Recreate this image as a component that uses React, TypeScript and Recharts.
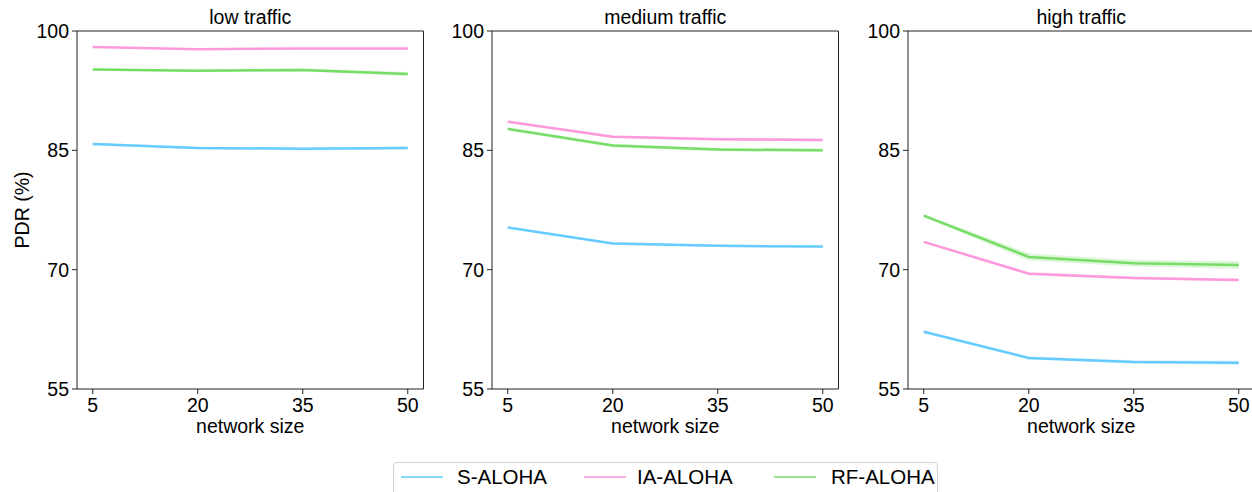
import { ComposedChart, Line, Area, XAxis, YAxis, ReferenceLine } from "recharts";

const sizes = [5, 20, 35, 50];
const yTicks = [55, 70, 85, 100];
const seriesNames = ["S-ALOHA", "IA-ALOHA", "RF-ALOHA"];
const colors = ["#66ccff", "#ff99dd", "#77dd66"];
const panelTitles = ["low traffic", "medium traffic", "high traffic"];

// mean PDR per network size
const lowS = [85.8, 85.3, 85.2, 85.3];
const lowIA = [98.0, 97.7, 97.8, 97.8];
const lowRF = [95.15, 95.0, 95.1, 94.6];
const medS = [75.3, 73.3, 73.0, 72.9];
const medIA = [88.6, 86.7, 86.4, 86.3];
const medRF = [87.7, 85.6, 85.1, 85.0];
const highS = [62.2, 58.9, 58.4, 58.3];
const highIA = [73.5, 69.5, 68.95, 68.7];
const highRF = [76.8, 71.6, 70.8, 70.6];

// half width of the shaded confidence band
const lowSci = [0.15, 0.15, 0.15, 0.15];
const lowIAci = [0.1, 0.1, 0.1, 0.1];
const lowRFci = [0.15, 0.15, 0.2, 0.25];
const medSci = [0.15, 0.15, 0.15, 0.15];
const medIAci = [0.15, 0.15, 0.15, 0.15];
const medRFci = [0.2, 0.2, 0.2, 0.2];
const highSci = [0.15, 0.2, 0.2, 0.25];
const highIAci = [0.15, 0.2, 0.2, 0.2];
const highRFci = [0.2, 0.45, 0.4, 0.5];

const font = "'Liberation Sans', Arial, sans-serif";
const fs = 19.5;
const axisColor = "#222";
const plotW = 346.5;

const build = (s: number[], ia: number[], rf: number[], sc: number[], iac: number[], rfc: number[]) =>
  sizes.map((x, i) => ({
    x,
    s: s[i],
    ia: ia[i],
    rf: rf[i],
    sBand: [s[i] - sc[i], s[i] + sc[i]],
    iaBand: [ia[i] - iac[i], ia[i] + iac[i]],
    rfBand: [rf[i] - rfc[i], rf[i] + rfc[i]],
  }));

const panels = [
  { data: build(lowS, lowIA, lowRF, lowSci, lowIAci, lowRFci), plotLeft: 77 },
  { data: build(medS, medIA, medRF, medSci, medIAci, medRFci), plotLeft: 492 },
  { data: build(highS, highIA, highRF, highSci, highIAci, highRFci), plotLeft: 908 },
];

const PdrLabel = () => (
  <text
    x={22}
    y={210}
    transform="rotate(-90, 22, 210)"
    textAnchor="middle"
    dominantBaseline="central"
    fontSize={fs}
    fontFamily={font}
    fill="#000"
  >
    PDR (%)
  </text>
);

const Panel = ({ idx }: { idx: number }) => {
  const p = panels[idx];
  const yw = idx === 0 ? 77 : 60;
  const left = p.plotLeft - yw;
  const tickStyle = { fontSize: fs, fill: "#000", fontFamily: font };
  return (
    <div style={{ position: "absolute", left, top: 0 }}>
      <div
        style={{
          position: "absolute",
          left: yw,
          width: plotW,
          top: 5,
          textAlign: "center",
          fontSize: fs,
          fontFamily: font,
          color: "#000",
          lineHeight: "24px",
        }}
      >
        {panelTitles[idx]}
      </div>
      <ComposedChart
        width={yw + plotW + 2}
        height={445}
        data={p.data}
        margin={{ top: 31, right: 2, bottom: 6, left: 0 }}
      >
        <XAxis
          dataKey="x"
          type="number"
          domain={[2.75, 52.25]}
          ticks={sizes}
          allowDataOverflow
          height={50}
          tick={tickStyle}
          tickSize={5}
          tickMargin={4}
          stroke={axisColor}
          label={{
            value: "network size",
            position: "insideBottom",
            offset: 6,
            style: { fontSize: fs, fill: "#000", fontFamily: font },
          }}
        />
        <YAxis
          type="number"
          domain={[55, 100]}
          ticks={yTicks}
          allowDataOverflow
          width={yw}
          tick={tickStyle}
          tickSize={5}
          tickMargin={3}
          stroke={axisColor}
          label={idx === 0 ? { content: () => <PdrLabel /> } : undefined}
        />
        <ReferenceLine y={100} stroke={axisColor} strokeWidth={1} />
        <ReferenceLine x={52.25} stroke={axisColor} strokeWidth={1} />
        <Area dataKey="sBand" type="linear" stroke="none" fill={colors[0]} fillOpacity={0.25} isAnimationActive={false} dot={false} activeDot={false} />
        <Area dataKey="iaBand" type="linear" stroke="none" fill={colors[1]} fillOpacity={0.25} isAnimationActive={false} dot={false} activeDot={false} />
        <Area dataKey="rfBand" type="linear" stroke="none" fill={colors[2]} fillOpacity={0.25} isAnimationActive={false} dot={false} activeDot={false} />
        <Line dataKey="s" type="linear" stroke={colors[0]} strokeWidth={2.5} dot={false} isAnimationActive={false} />
        <Line dataKey="ia" type="linear" stroke={colors[1]} strokeWidth={2.5} dot={false} isAnimationActive={false} />
        <Line dataKey="rf" type="linear" stroke={colors[2]} strokeWidth={2.5} dot={false} isAnimationActive={false} />
      </ComposedChart>
    </div>
  );
};

const legendLineX = [7, 190, 380];
const legendTextX = [63, 243, 437];

const Legend = () => (
  <div
    style={{
      position: "absolute",
      left: 393,
      top: 462,
      width: 545,
      height: 40,
      border: "1px solid #d0d0d0",
      borderRadius: 4,
      boxSizing: "border-box",
      background: "#fff",
    }}
  >
    <svg width={543} height={38} style={{ display: "block" }}>
      {seriesNames.map((name, i) => (
        <g key={name}>
          <line x1={legendLineX[i]} x2={legendLineX[i] + 42} y1={14} y2={14} stroke={colors[i]} strokeWidth={1.6} />
          <text x={legendTextX[i]} y={21} fontSize={20.5} fontFamily={font} fill="#000">
            {name}
          </text>
        </g>
      ))}
    </svg>
  </div>
);

export default function App() {
  return (
    <div
      style={{
        position: "absolute",
        left: 0,
        top: 0,
        width: 1252,
        height: 492,
        overflow: "hidden",
        background: "#fff",
      }}
    >
      <Panel idx={0} />
      <Panel idx={1} />
      <Panel idx={2} />
      <Legend />
    </div>
  );
}
